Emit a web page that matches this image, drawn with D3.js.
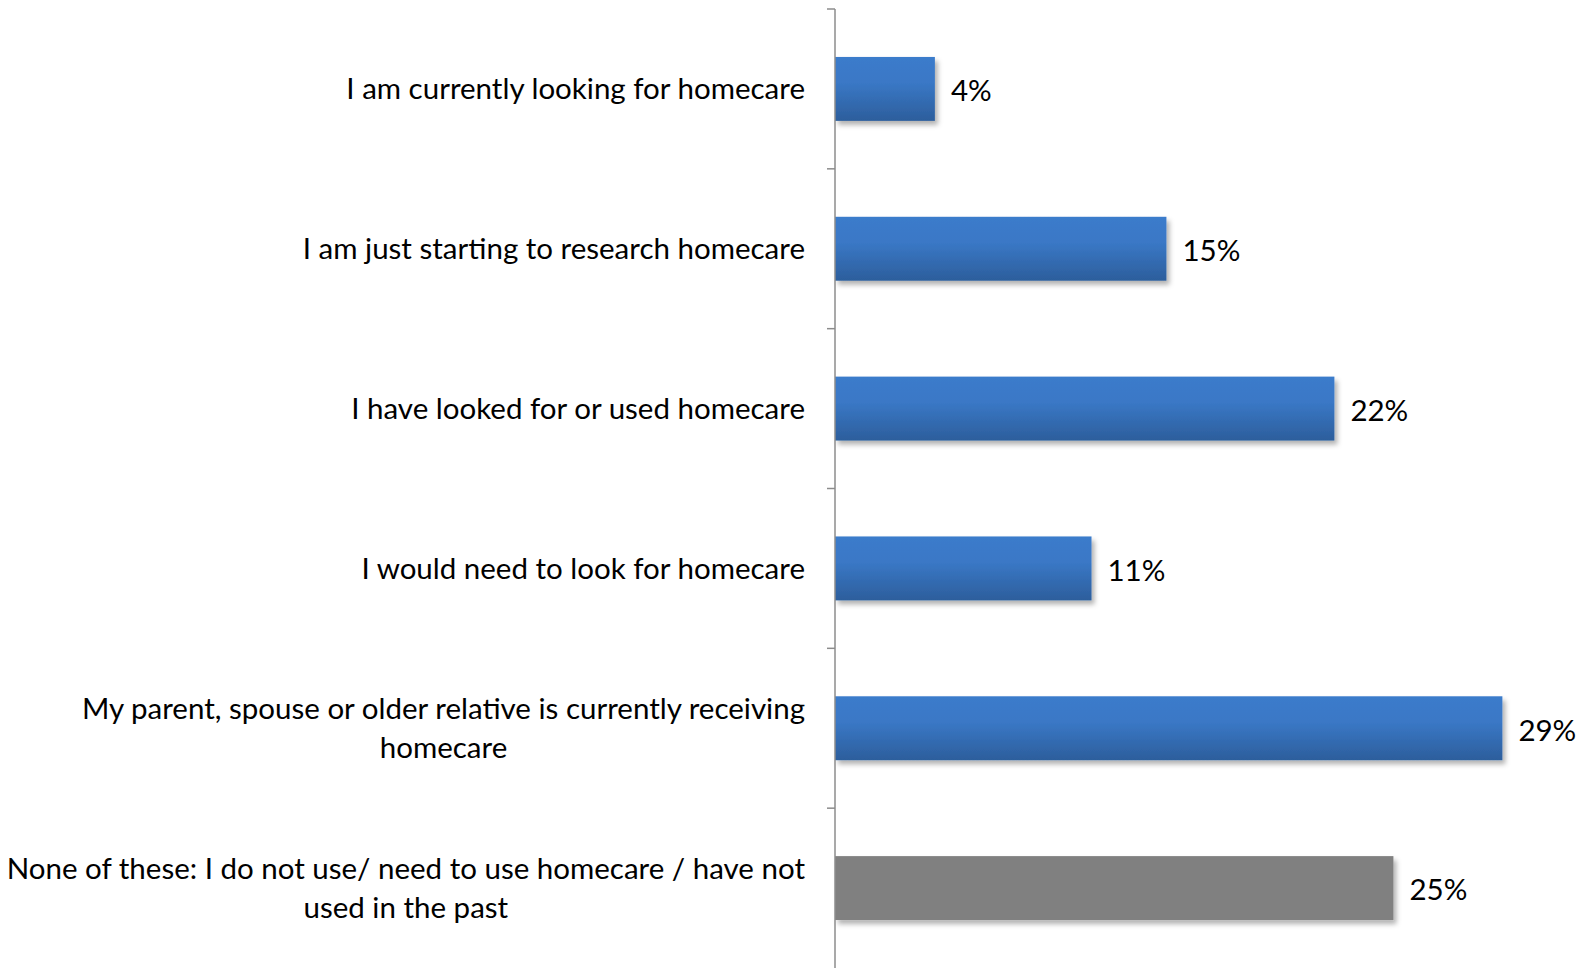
<!DOCTYPE html>
<meta charset='utf-8'>
<style>
  body { margin: 0; background: #ffffff; }
  #viz text { font-family: Lato, 'Open Sans', sans-serif; fill: #000000; }
  .axisY path, .axisY line { stroke: #8c8c8c; stroke-width: 1.5px; }
</style>
<body>
<div id='viz'></div>
<script src='https://cdnjs.cloudflare.com/ajax/libs/d3/7.8.5/d3.min.js'></script>
<script>

// categories, top to bottom
var categories = [
  'I am currently looking for homecare',
  'I am just starting to research homecare',
  'I have looked for or used homecare',
  'I would need to look for homecare',
  'My parent, spouse or older relative is currently receiving homecare',
  'None of these: I do not use/ need to use homecare / have not used in the past'
];
// shares, labels show them rounded
var values = [0.044, 0.146, 0.220, 0.113, 0.294, 0.246];
var barColors = ['blue', 'blue', 'blue', 'blue', 'blue', 'gray'];

var width = 1583, height = 968;
var margin = {top: 9, right: 67, bottom: 0, left: 835};
var innerW = width - margin.left - margin.right,
    innerH = height - margin.top - margin.bottom;
var fontSize = 29.5;

var svg = d3.select('#viz').append('svg')
    .attr('width', width)
    .attr('height', height);

var defs = svg.append('defs');
var grad = defs.append('linearGradient')
    .attr('id', 'blueGrad')
    .attr('x1', 0).attr('y1', 0).attr('x2', 0).attr('y2', 1);
grad.append('stop').attr('offset', '0%').attr('stop-color', '#3a7bcb');
grad.append('stop').attr('offset', '40%').attr('stop-color', '#3a78c6');
grad.append('stop').attr('offset', '100%').attr('stop-color', '#2c5e9c');

var shadow = defs.append('filter')
    .attr('id', 'shadow')
    .attr('x', '-5%').attr('y', '-20%').attr('width', '115%').attr('height', '160%');
shadow.append('feDropShadow')
    .attr('dx', 3).attr('dy', 4).attr('stdDeviation', 2.5)
    .attr('flood-color', '#000').attr('flood-opacity', 0.3);

var g = svg.append('g')
    .attr('transform', 'translate(' + margin.left + ',' + margin.top + ')');

var xScale = d3.scaleLinear().domain([0, 0.30]).range([0, 681]);
var yScale = d3.scaleBand().domain(categories).range([0, innerH]).paddingInner(0.6).paddingOuter(0.3);

// bars
g.selectAll('.bar')
    .data(values)
    .enter().append('rect')
    .attr('class', 'bar')
    .attr('x', 0)
    .attr('y', function(d, i) { return yScale(categories[i]); })
    .attr('width', function(d) { return xScale(d); })
    .attr('height', yScale.bandwidth())
    .attr('fill', function(d, i) { return barColors[i] === 'gray' ? '#808080' : 'url(#blueGrad)'; })
    .attr('filter', 'url(#shadow)');

// value labels
var fmt = d3.format('.0%');
g.selectAll('.barText')
    .data(values)
    .enter().append('text')
    .attr('class', 'barText')
    .attr('x', function(d) { return xScale(d) + 16; })
    .attr('y', function(d, i) { return yScale(categories[i]) + yScale.bandwidth() / 2 + 2; })
    .attr('dy', '0.35em')
    .attr('font-size', fontSize)
    .text(function(d) { return fmt(d); });

// axis with ticks between categories
var tickPos = d3.range(categories.length).map(function(i) { return i * innerH / categories.length; });
var axis = g.append('g').attr('class', 'axisY');
axis.append('line')
    .attr('x1', 0).attr('x2', 0)
    .attr('y1', 0).attr('y2', innerH);
axis.selectAll('.tick')
    .data(tickPos)
    .enter().append('line')
    .attr('x1', -8).attr('x2', 0)
    .attr('y1', function(d) { return d; })
    .attr('y2', function(d) { return d; });

// category labels, wrapped and centred as a block
var labelRight = -30, maxW = 808, lineH = 38.5;
categories.forEach(function(c, i) {
  var cy = yScale(c) + yScale.bandwidth() / 2;
  var tmp = g.append('text').attr('font-size', fontSize);
  var words = c.split(' '), lines = [], cur = '';
  words.forEach(function(w) {
    var test = cur ? cur + ' ' + w : w;
    tmp.text(test);
    if (tmp.node().getComputedTextLength() > maxW && cur) { lines.push(cur); cur = w; }
    else cur = test;
  });
  lines.push(cur);
  var widths = lines.map(function(l) { tmp.text(l); return tmp.node().getComputedTextLength(); });
  tmp.remove();
  var blockW = d3.max(widths);
  var t = g.append('text')
      .attr('class', 'catLabel')
      .attr('font-size', fontSize)
      .attr('text-anchor', 'middle');
  lines.forEach(function(l, k) {
    t.append('tspan')
      .attr('x', labelRight - blockW / 2)
      .attr('y', cy + (k - (lines.length - 1) / 2) * lineH)
      .attr('dy', '0.35em')
      .text(l);
  });
});

</script>
</body>
